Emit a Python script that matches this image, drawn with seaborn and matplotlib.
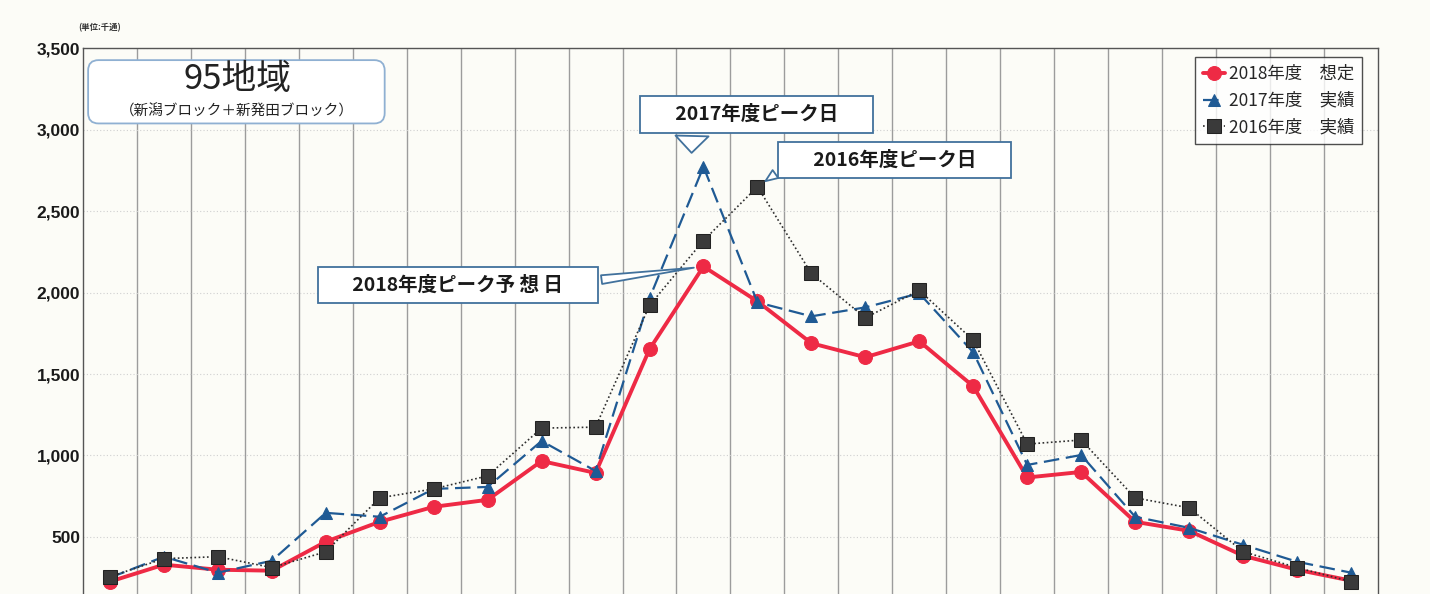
import numpy as np
import pandas as pd
import matplotlib
matplotlib.use("Agg")
import matplotlib.pyplot as plt
import seaborn as sns
from matplotlib.patches import FancyBboxPatch

# data (thousands of items per day)
days = list(range(1, 25))
vol_2018 = [226, 330, 299, 293, 471, 593, 685, 728, 966, 893, 1652, 2160,
            1946, 1689, 1603, 1701, 1425, 865, 899, 593, 538, 385, 299, 232]
vol_2017 = [250, 379, 281, 354, 648, 624, 795, 807, 1089, 905, 1965, 2772,
            1940, 1854, 1909, 1995, 1633, 942, 1003, 624, 556, 452, 348, 281]
vol_2016 = [256, 367, 379, 312, 409, 740, 795, 875, 1168, 1174, 1921, 2319,
            2649, 2117, 1845, 2013, 1707, 1070, 1095, 740, 679, 410, 312, 226]
series_labels = ["2018年度\u3000想定", "2017年度\u3000実績", "2016年度\u3000実績"]
y_ticks = [500, 1000, 1500, 2000, 2500, 3000, 3500]

sns.set_theme(style="white")
plt.rcParams["font.family"] = ["Noto Sans CJK JP", "DejaVu Sans"]

bg = "#fcfcf7"
fig = plt.figure(figsize=(14.3, 5.94), dpi=100, facecolor=bg)
ax = fig.add_axes([0.058, 0.0, 0.9056, 0.919], facecolor=bg)

# grid first
ax.set_xlim(0.5, 24.5)
ax.set_ylim(150, 3500)
ax.set_xticks([])
ax.set_xticks(np.arange(1.5, 24, 1), minor=True)
ax.tick_params(axis="x", which="both", length=0, labelbottom=False)
ax.grid(which="minor", axis="x", color="#9c9c9c", lw=1.0)
ax.set_yticks(y_ticks)
ax.set_yticklabels([f"{v:,}" for v in y_ticks], fontsize=12.5, fontweight="bold",
                   family="Liberation Sans", color="#1a1a1a")
ax.tick_params(axis="y", length=0, pad=2)
ax.yaxis.grid(True, color="#d0d0d0", ls=(0, (1, 2)), lw=0.8)
ax.set_axisbelow(True)

for s in ["left", "top", "right"]:
    ax.spines[s].set_visible(True)
    ax.spines[s].set_color("#555555")
    ax.spines[s].set_linewidth(1.0)
ax.spines["bottom"].set_visible(False)

df = pd.DataFrame({"day": days, "v2018": vol_2018, "v2017": vol_2017, "v2016": vol_2016})

# 2018 forecast - red solid with circles
sns.lineplot(data=df, x="day", y="v2018", ax=ax, color="#ee2a45", lw=2.8,
             marker="o", markersize=10, markeredgecolor="#ee2a45",
             label=series_labels[0], zorder=3)
# 2017 actual - blue dashed with triangles
sns.lineplot(data=df, x="day", y="v2017", ax=ax, color="#1f5a94", lw=1.6,
             dashes=(7, 3), marker="^", markersize=9, markeredgecolor="#1f5a94",
             label=series_labels[1], zorder=4)
# 2016 actual - black dotted with squares
sns.lineplot(data=df, x="day", y="v2016", ax=ax, color="#2e2e2e", lw=1.2,
             dashes=(1, 1.5), marker="s", markersize=9.5, markerfacecolor="#3a3a3a",
             markeredgecolor="#222222", label=series_labels[2], zorder=5)
ax.set_xlabel("")
ax.set_ylabel("")

leg = ax.legend(loc="upper right", bbox_to_anchor=(0.9876, 0.9835), borderaxespad=0,
                fontsize=12.5, frameon=True, fancybox=False, edgecolor="#222222",
                handlelength=1.3, handletextpad=0.2, labelspacing=0.5,
                borderpad=0.45)
leg.get_frame().set_linewidth(1.0)
leg.get_frame().set_facecolor("white")

# title box
ax.add_patch(FancyBboxPatch((0.004, 0.862), 0.229, 0.116, transform=ax.transAxes,
                            boxstyle="round,pad=0,rounding_size=0.008",
                            mutation_aspect=2.37, fc="white", ec="#8fb0d2",
                            lw=1.3, zorder=6))
ax.text(0.119, 0.942, "95地域", transform=ax.transAxes, ha="center", va="center",
        fontsize=25, color="#222222", zorder=7)
ax.text(0.119, 0.884, "（新潟ブロック＋新発田ブロック）", transform=ax.transAxes,
        ha="center", va="center", fontsize=10.5, color="#222222", zorder=7)
ax.text(-0.004, 1.038, "(単位:千通)", transform=ax.transAxes, ha="left", va="center",
        fontsize=6, fontweight="bold", color="#333333")

# callouts
box_kw = dict(boxstyle="square,pad=0.45", fc="white", ec="#41719c", lw=1.3)
pad6 = " " * 6
# pointer tip sits just above/left of the 2017 peak marker
ax.annotate(pad6 + "2017年度ピーク日" + pad6, xy=(days[11] - 0.22, vol_2017[11] + 85),
            xycoords="data",
            xytext=(0.5205, 0.879), textcoords="axes fraction", ha="center", va="center",
            fontsize=14, fontweight="bold", color="#1a1a1a", bbox=box_kw, zorder=8,
            arrowprops=dict(arrowstyle="wedge,tail_width=1.7,shrink_factor=0.5",
                            fc="white", ec="#41719c", lw=1.3, relpos=(0.2, 0.0),
                            shrinkB=0))
ax.annotate(pad6 + "2016年度ピーク日" + pad6, xy=(days[12], vol_2016[12]), xycoords="data",
            xytext=(0.627, 0.795), textcoords="axes fraction", ha="center", va="center",
            fontsize=14, fontweight="bold", color="#1a1a1a", bbox=box_kw, zorder=8,
            arrowprops=dict(arrowstyle="wedge,tail_width=0.5,shrink_factor=0.5",
                            fc="white", ec="#41719c", lw=1.3, relpos=(0.0, 0.2),
                            shrinkB=7))
ax.annotate(pad6 + "2018年度ピーク予 想 日" + pad6, xy=(days[11], vol_2018[11]),
            xycoords="data", xytext=(0.2895, 0.566), textcoords="axes fraction",
            ha="center", va="center",
            fontsize=14, fontweight="bold", color="#1a1a1a", bbox=box_kw, zorder=8,
            arrowprops=dict(arrowstyle="wedge,tail_width=0.45,shrink_factor=0.5",
                            fc="white", ec="#41719c", lw=1.3, relpos=(1.0, 0.7),
                            shrinkB=7))

fig.savefig("out.png", dpi=100, facecolor=bg)
